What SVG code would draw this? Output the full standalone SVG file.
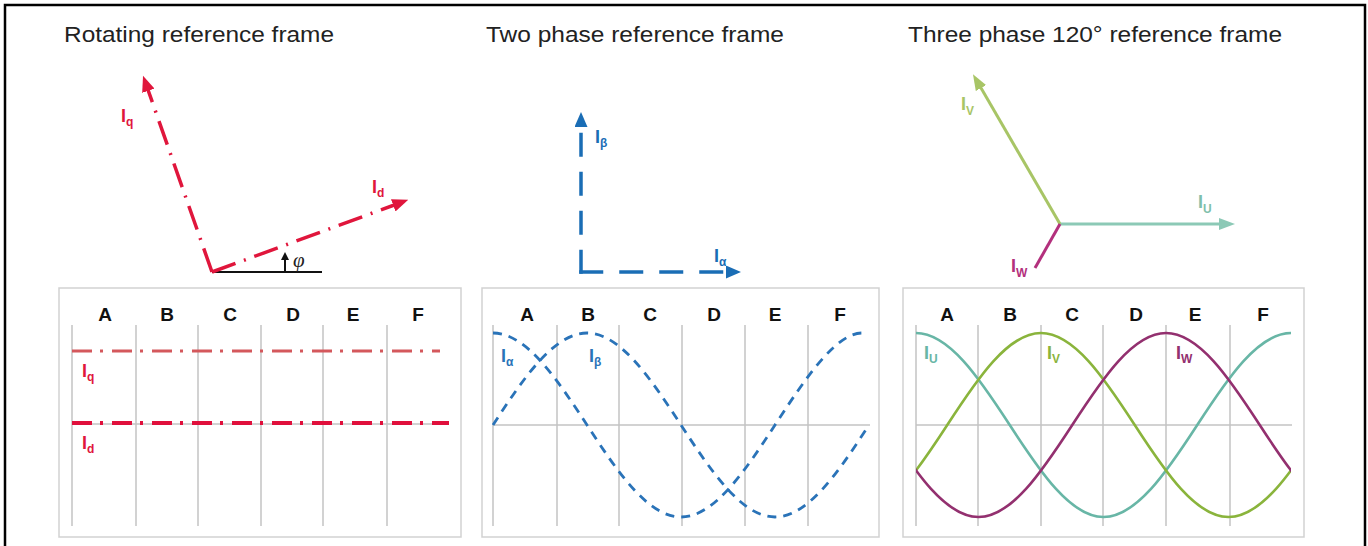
<svg xmlns="http://www.w3.org/2000/svg" width="1368" height="546" viewBox="0 0 1368 546">
<style>
.title{font-family:"Liberation Sans",Arial,sans-serif;font-size:22px;fill:#222}
.col{font-family:"Liberation Sans",Arial,sans-serif;font-size:19px;font-weight:bold;fill:#111;text-anchor:middle}
.lab{font-family:"Liberation Sans",Arial,sans-serif;font-size:18px;font-weight:bold}
.sub{font-size:12px}
.box{fill:#fff;stroke:#d2d2d2;stroke-width:1.5}
.grid{stroke:#c4c4c4;stroke-width:1.5;fill:none}
.red{fill:#e0163c}.blue{fill:#1a6db5}
</style>
<defs>
<marker id="hRed" markerUnits="userSpaceOnUse" markerWidth="16" markerHeight="13" refX="4" refY="6.5" orient="auto"><path d="M0,0 L16,6.5 L0,13 z" fill="#e0163c"/></marker>
<marker id="hBlue" markerUnits="userSpaceOnUse" markerWidth="15" markerHeight="13" refX="4" refY="6.5" orient="auto"><path d="M0,0 L15,6.5 L0,13 z" fill="#1a6db5"/></marker>
<marker id="hTeal" markerUnits="userSpaceOnUse" markerWidth="16" markerHeight="12" refX="4" refY="6" orient="auto"><path d="M0,0 L16,6 L0,12 z" fill="#8cc9b6"/></marker>
<marker id="hGreen" markerUnits="userSpaceOnUse" markerWidth="16" markerHeight="12" refX="4" refY="6" orient="auto"><path d="M0,0 L16,6 L0,12 z" fill="#a8c566"/></marker>
<marker id="hBlack" markerUnits="userSpaceOnUse" markerWidth="8" markerHeight="8" refX="2" refY="4" orient="auto"><path d="M0,0 L8,4 L0,8 z" fill="#111"/></marker>
<clipPath id="clip3"><rect x="916" y="300" width="375" height="240"/></clipPath>
</defs>

<rect x="5" y="5" width="1360" height="560" fill="#fff" stroke="#000" stroke-width="2.5"/>

<!-- Titles -->
<text class="title" x="64" y="42" textLength="270" lengthAdjust="spacingAndGlyphs">Rotating reference frame</text>
<text class="title" x="486" y="42" textLength="298" lengthAdjust="spacingAndGlyphs">Two phase reference frame</text>
<text class="title" x="908" y="42" textLength="374" lengthAdjust="spacingAndGlyphs">Three phase 120° reference frame</text>

<!-- Panel 1 vectors -->
<g id="rotating-vectors">
<line x1="212" y1="272" x2="322" y2="272" stroke="#111" stroke-width="2"/>
<line x1="285" y1="272" x2="285" y2="258" stroke="#111" stroke-width="2" marker-end="url(#hBlack)"/>
<text x="293" y="267" font-family="'Liberation Serif',serif" font-style="italic" font-size="21" fill="#222">φ</text>
<line x1="212" y1="272" x2="147" y2="87" stroke="#e0163c" stroke-width="3.5" stroke-dasharray="25 9 2 9" marker-end="url(#hRed)"/>
<line x1="212" y1="272" x2="397" y2="204" stroke="#e0163c" stroke-width="3.5" stroke-dasharray="25 9 2 9" marker-end="url(#hRed)"/>
<text class="lab red" x="121" y="122">I<tspan class="sub" dy="4">q</tspan></text>
<text class="lab red" x="372" y="193">I<tspan class="sub" dy="4">d</tspan></text>
</g>

<!-- Panel 2 vectors -->
<g id="twophase-vectors">
<line x1="581" y1="273.75" x2="581" y2="123" stroke="#1a6db5" stroke-width="3.5" stroke-dasharray="24 15" marker-end="url(#hBlue)"/>
<line x1="579.25" y1="272" x2="730" y2="272" stroke="#1a6db5" stroke-width="3.5" stroke-dasharray="24 16" marker-end="url(#hBlue)"/>
<text class="lab blue" x="595" y="143">I<tspan class="sub" dy="4">β</tspan></text>
<text class="lab blue" x="714" y="262">I<tspan class="sub" dy="4">α</tspan></text>
</g>

<!-- Panel 3 vectors -->
<g id="threephase-vectors">
<line x1="1060" y1="224" x2="1223" y2="224" stroke="#8cc9b6" stroke-width="3" marker-end="url(#hTeal)"/>
<line x1="1060" y1="224" x2="979" y2="84.6" stroke="#a8c566" stroke-width="3" marker-end="url(#hGreen)"/>
<line x1="1060" y1="224" x2="1035" y2="268" stroke="#b3307d" stroke-width="3"/>
<text class="lab" fill="#a8c566" font-weight="normal" x="961" y="110">I<tspan class="sub" dy="5">V</tspan></text>
<text class="lab" fill="#7fbfac" font-weight="normal" x="1198" y="208">I<tspan class="sub" dy="5">U</tspan></text>
<text class="lab" fill="#b3307d" font-weight="normal" x="1011" y="272">I<tspan class="sub" dy="5">W</tspan></text>
</g>

<!-- Panel 1 chart -->
<g id="rotating-chart">
<rect class="box" x="59" y="288" width="402" height="249"/>
<path class="grid" d="M72,325V526M136,325V526M198,325V526M261,325V526M323,325V526M387,325V526M72,424H449"/>
<text class="col" x="105" y="321">A</text><text class="col" x="167" y="321">B</text><text class="col" x="230" y="321">C</text><text class="col" x="293" y="321">D</text><text class="col" x="353" y="321">E</text><text class="col" x="418" y="321">F</text>
<line x1="72" y1="351" x2="440" y2="351" stroke="#d4585c" stroke-width="3" stroke-dasharray="20 8 3 9"/>
<line x1="72" y1="423" x2="449" y2="423" stroke="#e0103c" stroke-width="4" stroke-dasharray="20 8 3 9"/>
<text class="lab red" x="82" y="377" font-size="20">I<tspan class="sub" dy="4">q</tspan></text>
<text class="lab red" x="82" y="449" font-size="20">I<tspan class="sub" dy="4">d</tspan></text>
</g>

<!-- Panel 2 chart -->
<g id="twophase-chart">
<rect class="box" x="482" y="288" width="397" height="249"/>
<path class="grid" d="M493,325V526M557,325V526M619,325V526M682,325V526M745,325V526M808,325V526M493,425H870"/>
<text class="col" x="527" y="321">A</text><text class="col" x="588" y="321">B</text><text class="col" x="650" y="321">C</text><text class="col" x="714" y="321">D</text><text class="col" x="775" y="321">E</text><text class="col" x="840" y="321">F</text>
<path d="M493,425 C523.66,377.87 554.08,333 587,333 C619.92,333 650.34,377.87 681,425 C711.66,472.13 742.08,517 775,517 C807.92,517 838.34,472.13 867,428" fill="none" stroke="#2a73b8" stroke-width="2.8" stroke-dasharray="9 7"/>
<path d="M493,333 C525.92,333 556.34,377.87 587,425 C617.66,472.13 648.08,517 681,517 C713.92,517 744.34,472.13 775,425 C805.66,377.87 836.08,333 862,333" fill="none" stroke="#2a73b8" stroke-width="2.8" stroke-dasharray="9 7"/>
<text class="lab" fill="#2a73b8" x="501" y="362" font-size="20">I<tspan class="sub" dy="4">α</tspan></text>
<text class="lab" fill="#2a73b8" x="589" y="362" font-size="20">I<tspan class="sub" dy="4">β</tspan></text>
</g>

<!-- Panel 3 chart -->
<g id="threephase-chart">
<rect class="box" x="903" y="288" width="401" height="249"/>
<path class="grid" d="M916,325V526M978,325V526M1041,325V526M1103,325V526M1166,325V526M1230,325V526M916,425H1292"/>
<text class="col" x="947" y="321">A</text><text class="col" x="1010" y="321">B</text><text class="col" x="1072" y="321">C</text><text class="col" x="1136" y="321">D</text><text class="col" x="1195" y="321">E</text><text class="col" x="1263" y="321">F</text>
<g clip-path="url(#clip3)" fill="none" stroke-width="2.6">
<path stroke="#68b6a6" d="M916,333 c32.81,0 63.19,44.87 93.75,92 c30.56,47.13 60.94,92 93.75,92 c32.81,0 63.19,-44.87 93.75,-92 c30.56,-47.13 60.94,-92 93.75,-92"/>
<path stroke="#8ab43c" d="M853.5,517 c32.81,0 63.19,-44.87 93.75,-92 c30.56,-47.13 60.94,-92 93.75,-92 c32.81,0 63.19,44.87 93.75,92 c30.56,47.13 60.94,92 93.75,92 c32.81,0 63.19,-44.87 93.75,-92"/>
<path stroke="#93306f" d="M791,333 c32.81,0 63.19,44.87 93.75,92 c30.56,47.13 60.94,92 93.75,92 c32.81,0 63.19,-44.87 93.75,-92 c30.56,-47.13 60.94,-92 93.75,-92 c32.81,0 63.19,44.87 93.75,92 c30.56,47.13 60.94,92 93.75,92"/>
</g>
<text class="lab" fill="#68b6a6" x="924" y="359" font-size="19">I<tspan class="sub" dy="4">U</tspan></text>
<text class="lab" fill="#8ab43c" x="1047" y="359" font-size="19">I<tspan class="sub" dy="4">V</tspan></text>
<text class="lab" fill="#93306f" x="1176" y="359" font-size="19">I<tspan class="sub" dy="4">W</tspan></text>
</g>
</svg>
